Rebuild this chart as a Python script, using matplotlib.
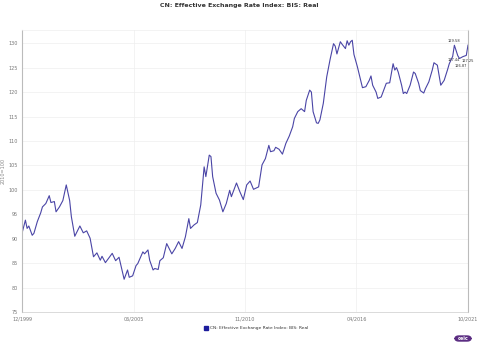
import matplotlib.pyplot as plt
from matplotlib.patches import Rectangle, FancyBboxPatch

# Months counted from Dec 1999, monthly readings of the real index
months = [0, 2, 3, 4, 6, 7, 9, 11, 12, 14, 16, 17, 19, 20, 22, 24, 26, 28, 29, 31,
          34, 36, 38, 40, 42, 44, 46, 47, 49, 53, 55, 57, 60, 62, 63, 65, 67, 68, 71, 72,
          74, 75, 77, 78, 80, 81, 83, 85, 88, 90, 92, 94, 96, 98, 99, 101, 103, 105, 107, 108,
          110, 111, 112, 114, 116, 118, 120, 122, 123, 126, 128, 130, 132, 134, 136, 139, 141, 143, 145, 146,
          148, 149, 151, 153, 155, 157, 159, 160, 162, 164, 166, 167, 169, 170, 171, 173, 174, 175, 177, 179,
          181, 183, 184, 185, 187, 188, 190, 191, 192, 193, 194, 195, 197, 199, 200, 202, 204, 205, 206, 208,
          209, 211, 213, 214, 216, 218, 219, 220, 221, 223, 224, 225, 226, 228, 230, 231, 233, 234, 236, 237,
          239, 241, 242, 244, 246, 248, 250, 251, 253, 254, 256, 257, 259, 261, 262]
reer = [91.1, 93.8, 92.1, 92.6, 90.7, 91.1, 93.5, 95.3, 96.5, 97.2, 98.8, 97.4, 97.6, 95.5, 96.5, 97.8, 101.0, 97.8, 94.5, 90.5,
        92.6, 91.2, 91.6, 90.1, 86.3, 87.1, 85.6, 86.4, 85.1, 87.0, 85.5, 86.2, 81.7, 83.6, 82.1, 82.4, 84.5, 84.9, 87.3, 86.9,
        87.7, 85.6, 83.6, 83.9, 83.7, 85.5, 86.1, 89.0, 86.9, 88.0, 89.4, 88.0, 90.4, 94.1, 92.1, 92.8, 93.3, 96.9, 104.7, 102.7,
        107.1, 106.8, 102.7, 99.3, 97.9, 95.5, 97.2, 99.9, 98.6, 101.4, 99.6, 98.0, 101.0, 101.8, 100.1, 100.6, 105.1, 106.4, 109.1, 107.8,
        108.0, 108.7, 108.3, 107.3, 109.5, 111.0, 112.9, 114.6, 116.0, 116.6, 116.0, 118.3, 120.4, 120.0, 116.0, 113.7, 113.6, 114.3, 117.7, 123.1,
        126.7, 129.9, 129.4, 127.8, 130.3, 129.8, 128.9, 130.5, 129.6, 130.3, 130.6, 127.7, 125.2, 122.3, 120.9, 121.1, 122.4, 123.3, 121.4, 120.0,
        118.7, 119.0, 120.9, 121.8, 121.9, 125.8, 124.5, 125.0, 124.1, 121.4, 119.7, 120.0, 119.7, 121.4, 124.1, 123.8, 121.8, 120.3, 119.8, 120.7,
        122.1, 124.5, 126.0, 125.5, 121.4, 122.4, 124.6, 125.8, 127.3, 129.58, 127.44, 126.87, 127.25, 127.5, 129.6]

tick_pos = [0, 65.5, 131, 196.5, 262]
tick_labels = ['12/1999', '06/2005', '11/2010', '04/2016', '10/2021']
y_ticks = [75, 80, 85, 90, 95, 100, 105, 110, 115, 120, 125, 130]

# points labelled with their values near the end of the series
label_idx = [months.index(254), months.index(256), months.index(259), months.index(257)]
label_offsets = [(0, 3), (-3, -3), (3.5, -3), (1, -5.5)]

fig = plt.figure(figsize=(4.79, 3.45), dpi=100)
ax = fig.add_axes([22 / 479, 1 - 312 / 345, 446 / 479, 282 / 345])

line_color = '#4a45a6'
ax.plot(months, reer, color=line_color, linewidth=0.8)

for i, (dx, dy) in zip(label_idx, label_offsets):
    ax.annotate(f'{reer[i]:.2f}', (months[i], reer[i]), xytext=(dx, dy),
                textcoords='offset points', ha='center', va='center',
                fontsize=2.6, color='#333333')

ax.set_xlim(0, 262)
ax.set_ylim(75, 132.7)
ax.set_xticks(tick_pos)
ax.set_xticklabels(tick_labels)
ax.set_yticks(y_ticks)
ax.tick_params(length=0, labelsize=3.5, colors='#777777', pad=3)
ax.grid(True, color='#eeeeee', linewidth=0.5)
ax.set_axisbelow(True)
for side in ['left', 'right']:
    ax.spines[side].set_color('#bbbbbb')
    ax.spines[side].set_linewidth(0.8)
ax.spines['bottom'].set_color('#cccccc')
ax.spines['bottom'].set_linewidth(0.5)
ax.spines['top'].set_color('#eeeeee')
ax.spines['top'].set_linewidth(0.5)
ax.set_ylabel('2010=100', fontsize=3.5, color='#888888')
ax.yaxis.set_label_coords(-0.036, 0.5)

fig.text(0.5, 1 - 6 / 345, 'CN: Effective Exchange Rate Index: BIS: Real',
         ha='center', va='center', fontsize=4.5, fontweight='bold', color='#333333')

# legend entry below the axis
fig.patches.append(Rectangle((204 / 479, 1 - 330 / 345), 4 / 479, 4 / 345,
                             transform=fig.transFigure, color='#1c1c9c'))
fig.text(210 / 479, 1 - 328 / 345, 'CN: Effective Exchange Rate Index: BIS: Real',
         ha='left', va='center', fontsize=3.2, color='#333333')

# logo badge
fig.patches.append(FancyBboxPatch((455 / 479, 1 - 341 / 345), 16 / 479, 5 / 345,
                                  boxstyle='round,pad=0,rounding_size=0.008',
                                  transform=fig.transFigure, color='#5b2d82'))
fig.text(463 / 479, 1 - 338.5 / 345, 'ceic', ha='center', va='center',
         fontsize=3.5, fontweight='bold', color='white')

fig.savefig('out.png', dpi=100)
